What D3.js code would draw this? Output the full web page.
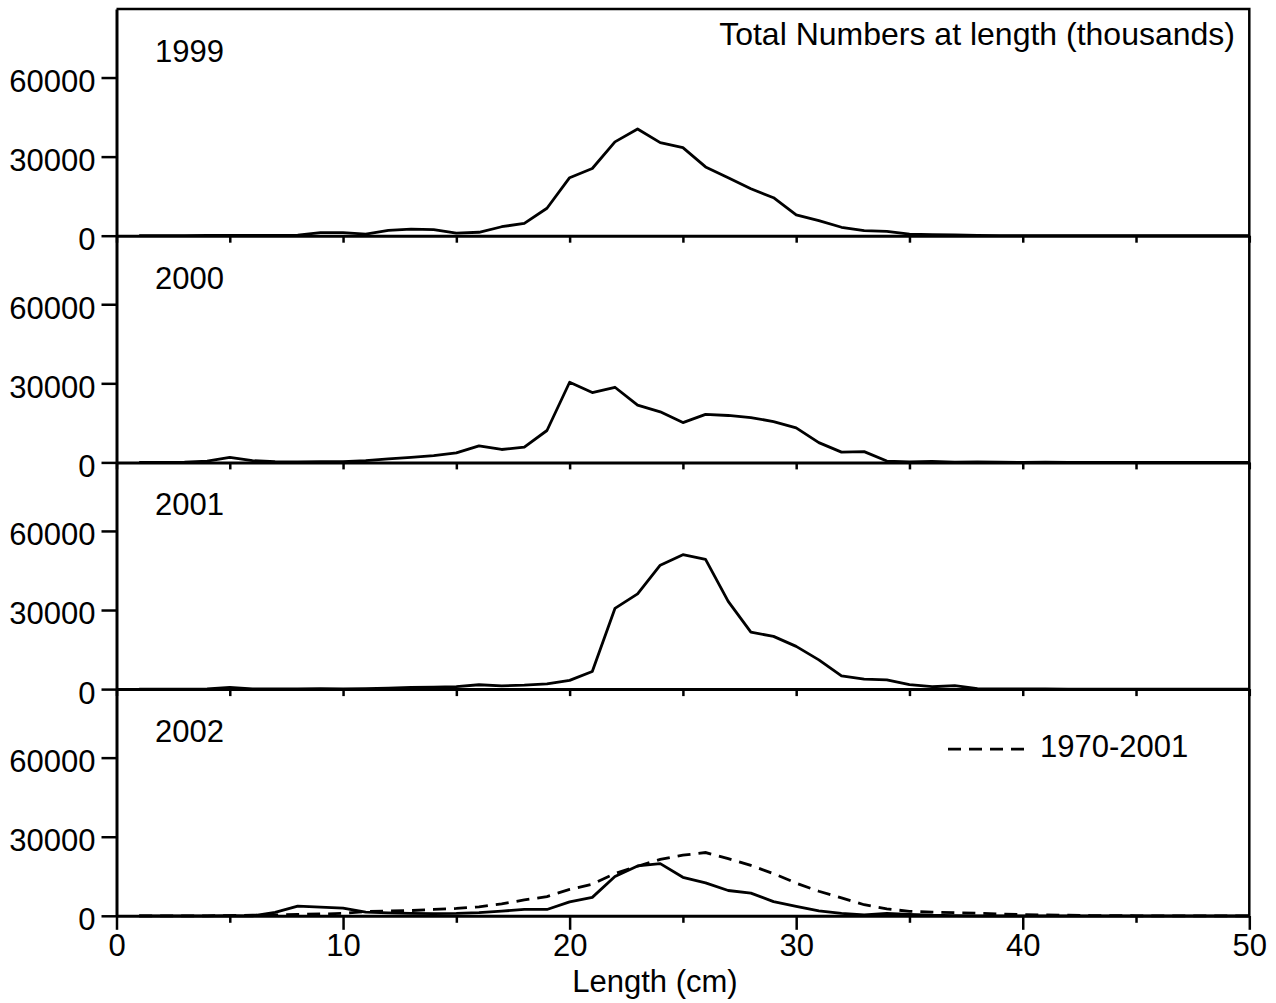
<!DOCTYPE html>
<html lang="en">
<head>
  <meta charset="UTF-8">
  <title>Total Numbers at length</title>
  <script src="https://d3js.org/d3.v7.min.js"></script>
  <style>
    body { margin: 0; background: #fff; }
    svg text { font-family: "Liberation Sans", Arial, sans-serif; fill: #000; }
  </style>
</head>
<body>
  <svg width="1276" height="1003"></svg>

  <script>
    // Length classes (cm)
    const lengths = d3.range(1, 51);

    // Total numbers at length (thousands), one array per year, 1..50 cm
    const years = ["1999", "2000", "2001", "2002"];

    const n1999 = [0, 0, 0, 100, 100, 100, 100, 200, 1200, 1200,
      600, 2000, 2500, 2300, 1000, 1300, 3400, 4700, 10400, 22000,
      25500, 35600, 40500, 35300, 33400, 26100, 22000, 17800, 14400, 7900,
      5700, 3200, 1900, 1650, 600, 400, 300, 100, 0, 0,
      0, 0, 0, 0, 0, 0, 0, 0, 0, 0];

    const n2000 = [0, 0, 100, 500, 1900, 650, 300, 200, 300, 300,
      700, 1300, 1900, 2550, 3600, 6300, 4900, 5800, 12100, 30400,
      26500, 28500, 21700, 19200, 15100, 18200, 17800, 17000, 15500, 13100,
      7500, 3900, 4100, 500, 200, 400, 100, 200, 50, 0,
      100, 0, 0, 0, 0, 0, 0, 0, 0, 0];

    const n2001 = [0, 0, 0, 100, 600, 100, 100, 100, 200, 100,
      200, 400, 600, 700, 900, 1650, 1200, 1500, 2000, 3300,
      6700, 30600, 36100, 47000, 51000, 49200, 33300, 21600, 20000, 16200,
      11100, 5000, 3800, 3500, 1700, 900, 1300, 200, 100, 100,
      100, 0, 0, 0, 0, 0, 0, 0, 0, 0];

    const n2002 = [0, 0, 0, 0, 100, 0, 1300, 3700, 3300, 2900,
      1400, 1100, 900, 800, 900, 1200, 1800, 2400, 2400, 5300,
      7000, 14900, 18900, 19800, 14600, 12500, 9600, 8600, 5400, 3600,
      1900, 900, 300, 900, 500, 200, 100, 0, 0, 0,
      0, 0, 0, 0, 0, 0, 0, 0, 0, 0];

    // Long-term mean 1970-2001 (dashed, drawn in the 2002 panel)
    const mean7001 = [0, 0, 0, 0, 100, 200, 300, 500, 700, 900,
      1600, 1800, 2000, 2400, 2800, 3400, 4500, 6000, 7300, 10000,
      12000, 16000, 18800, 21400, 23000, 24000, 21700, 19100, 16000, 12400,
      9300, 6800, 4200, 2600, 1700, 1400, 1200, 1000, 700, 500,
      300, 200, 100, 100, 0, 0, 0, 0, 0, 0];

    const series = [n1999, n2000, n2001, n2002];
    const yTicks = [0, 30000, 60000];
    const xTicks = d3.range(0, 51, 5);

    const plotLeft = 116.5, plotRight = 1249.3, plotTop = 9;
    const panelH = 226.7;
    const yMax = 86000;

    const svg = d3.select("svg");

    const x = d3.scaleLinear().domain([0, 50]).range([plotLeft, plotRight]);

    const line = (y) => d3.line()
      .x((d, i) => x(lengths[i]))
      .y(d => y(d));

    years.forEach((yr, p) => {
      const base = plotTop + (p + 1) * panelH;
      const y = d3.scaleLinear().domain([0, yMax]).range([base, base - panelH]);
      const last = p === years.length - 1;

      // y axis (no thousands separator)
      const ga = svg.append("g")
        .attr("transform", "translate(" + plotLeft + ",0)")
        .call(d3.axisLeft(y).tickValues(yTicks).tickFormat(d3.format("d"))
          .tickSize(15).tickSizeOuter(0).tickPadding(6));
      ga.selectAll("text").attr("dy", "0.45em").style("font-size", "31px");

      // x axis at the panel baseline
      const gx = svg.append("g")
        .attr("transform", "translate(0," + base + ")");
      if (!last) {
        gx.call(d3.axisBottom(x).tickValues(xTicks).tickSize(7).tickSizeOuter(0).tickFormat(""));
      } else {
        gx.call(d3.axisBottom(x).tickValues(xTicks.filter(v => v % 10 === 0)).tickSize(14).tickSizeOuter(0).tickPadding(4));
        gx.selectAll("text").style("font-size", "31px");
        svg.append("g")
          .attr("transform", "translate(0," + base + ")")
          .call(d3.axisBottom(x).tickValues(xTicks.filter(v => v % 10 === 5)).tickSize(7).tickSizeOuter(0).tickFormat(""))
          .select(".domain").remove();
      }

      // data line
      svg.append("path")
        .datum(series[p])
        .attr("fill", "none")
        .attr("stroke", "#000")
        .attr("stroke-width", 2.8)
        .attr("stroke-linejoin", "round")
        .attr("d", line(y));

      if (last) {
        svg.append("path")
          .datum(mean7001)
          .attr("fill", "none")
          .attr("stroke", "#000")
          .attr("stroke-width", 2.8)
          .attr("stroke-dasharray", "13,8")
          .attr("d", line(y));

        // legend
        const ly = base - panelH + 60;
        svg.append("line")
          .attr("x1", 948).attr("x2", 1024)
          .attr("y1", ly).attr("y2", ly)
          .attr("stroke", "#000").attr("stroke-width", 2.8)
          .attr("stroke-dasharray", "13,8");
        svg.append("text")
          .attr("x", 1040).attr("y", ly + 8)
          .style("font-size", "31px")
          .text("1970-2001");
      }

      // year label
      svg.append("text")
        .attr("x", 155)
        .attr("y", base - panelH + 53)
        .style("font-size", "31px")
        .text(yr);
    });

    svg.selectAll(".domain").attr("stroke-width", 3);
    svg.selectAll(".tick line").attr("stroke-width", 2.5);

    // frame: top and right
    const plotBottom = plotTop + years.length * panelH;
    svg.append("path")
      .attr("d", "M" + plotLeft + "," + plotTop + "H" + plotRight + "V" + plotBottom)
      .attr("fill", "none")
      .attr("stroke", "#000")
      .attr("stroke-width", 2.5);

    // title
    svg.append("text")
      .attr("x", 1235)
      .attr("y", 45)
      .attr("text-anchor", "end")
      .style("font-size", "32px")
      .text("Total Numbers at length (thousands)");

    // x axis title
    svg.append("text")
      .attr("x", 655)
      .attr("y", 992)
      .attr("text-anchor", "middle")
      .style("font-size", "31px")
      .text("Length (cm)");
  </script>
</body>
</html>
